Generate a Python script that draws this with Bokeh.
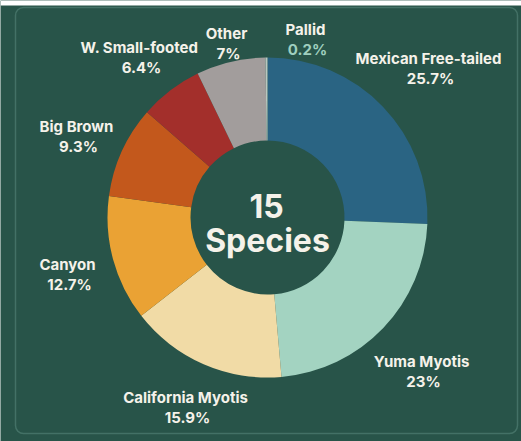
import math
from bokeh.plotting import figure
from bokeh.models import Range1d, BoxAnnotation, ColumnDataSource
from bokeh.core.properties import value
from bokeh.embed import file_html
from bokeh.resources import INLINE

# ---- data ----
species = ["Mexican Free-tailed", "Yuma Myotis", "California Myotis", "Canyon",
           "Big Brown", "W. Small-footed", "Other", "Pallid"]
shares = [25.7, 23.0, 15.9, 12.7, 9.3, 6.4, 7.0, 0.2]
share_labels = ["25.7%", "23%", "15.9%", "12.7%", "9.3%", "6.4%", "7%", "0.2%"]
colors = ["#2a6483", "#a3d3c1", "#f1dba6", "#eaa234", "#c3581c", "#a32f2b", "#a29d9c", "#b8c8c0"]
center_top = "15"
center_bottom = "Species"

W, H = 521, 441
BG = "#285449"
TXT = "#f5f2ea"
FONT = value("Inter")

def sy(y):
    return H - y

p = figure(width=W, height=H, x_range=Range1d(0, W), y_range=Range1d(0, H),
           output_backend="svg", toolbar_location=None, min_border=0,
           background_fill_color=BG, border_fill_color=BG, outline_line_color=None)
p.axis.visible = False
p.grid.visible = False

# frame
p.add_layout(BoxAnnotation(left=0, right=W, bottom=sy(5), top=H, fill_color="white",
                           fill_alpha=1, line_color=None))
p.add_layout(BoxAnnotation(left=15, right=517, bottom=sy(433), top=sy(7), fill_alpha=0,
                           line_color="#86b5a8", line_width=1.5, border_radius=8))

# donut
total = sum(shares)
cx, cy = 267, sy(217)
starts, ends = [], []
acc = 0.0
for s in shares:
    starts.append(math.pi / 2 - acc / total * 2 * math.pi)
    acc += s
    ends.append(math.pi / 2 - acc / total * 2 * math.pi)
src = ColumnDataSource(dict(start=starts, end=ends, color=colors))
p.annular_wedge(x=cx, y=cy, inner_radius=77, outer_radius=160, start_angle="start",
                end_angle="end", direction="clock", fill_color="color", line_color=None,
                source=src)

# center text
p.text(x=[266], y=[sy(205)], text=[center_top], text_font=FONT, text_font_style="bold",
       text_font_size="32px", text_color=TXT, text_align="center", text_baseline="alphabetic")
p.text(x=[267], y=[sy(240)], text=[center_bottom], text_font=FONT, text_font_style="bold",
       text_font_size="32px", text_color=TXT, text_align="center", text_baseline="alphabetic")

# label layout (screen x, name baseline y)
label_pos = [(428, 58), (421, 361), (185, 397), (67, 264), (76, 126), (139, 47), (226, 33), (305, 29)]
pct_colors = [TXT] * 7 + ["#9fcfbf"]
for name, pct, (lx, ly), pc in zip(species, share_labels, label_pos, pct_colors):
    p.text(x=[lx], y=[sy(ly)], text=[name], text_font=FONT, text_font_style="bold",
           text_font_size="15px", text_color=TXT, text_align="center", text_baseline="alphabetic")
    p.text(x=[lx + 2], y=[sy(ly + 20)], text=[pct], text_font=FONT, text_font_style="bold",
           text_font_size="15px", text_color=pc, text_align="center", text_baseline="alphabetic")

open("out.html", "w").write(file_html(p, INLINE))
